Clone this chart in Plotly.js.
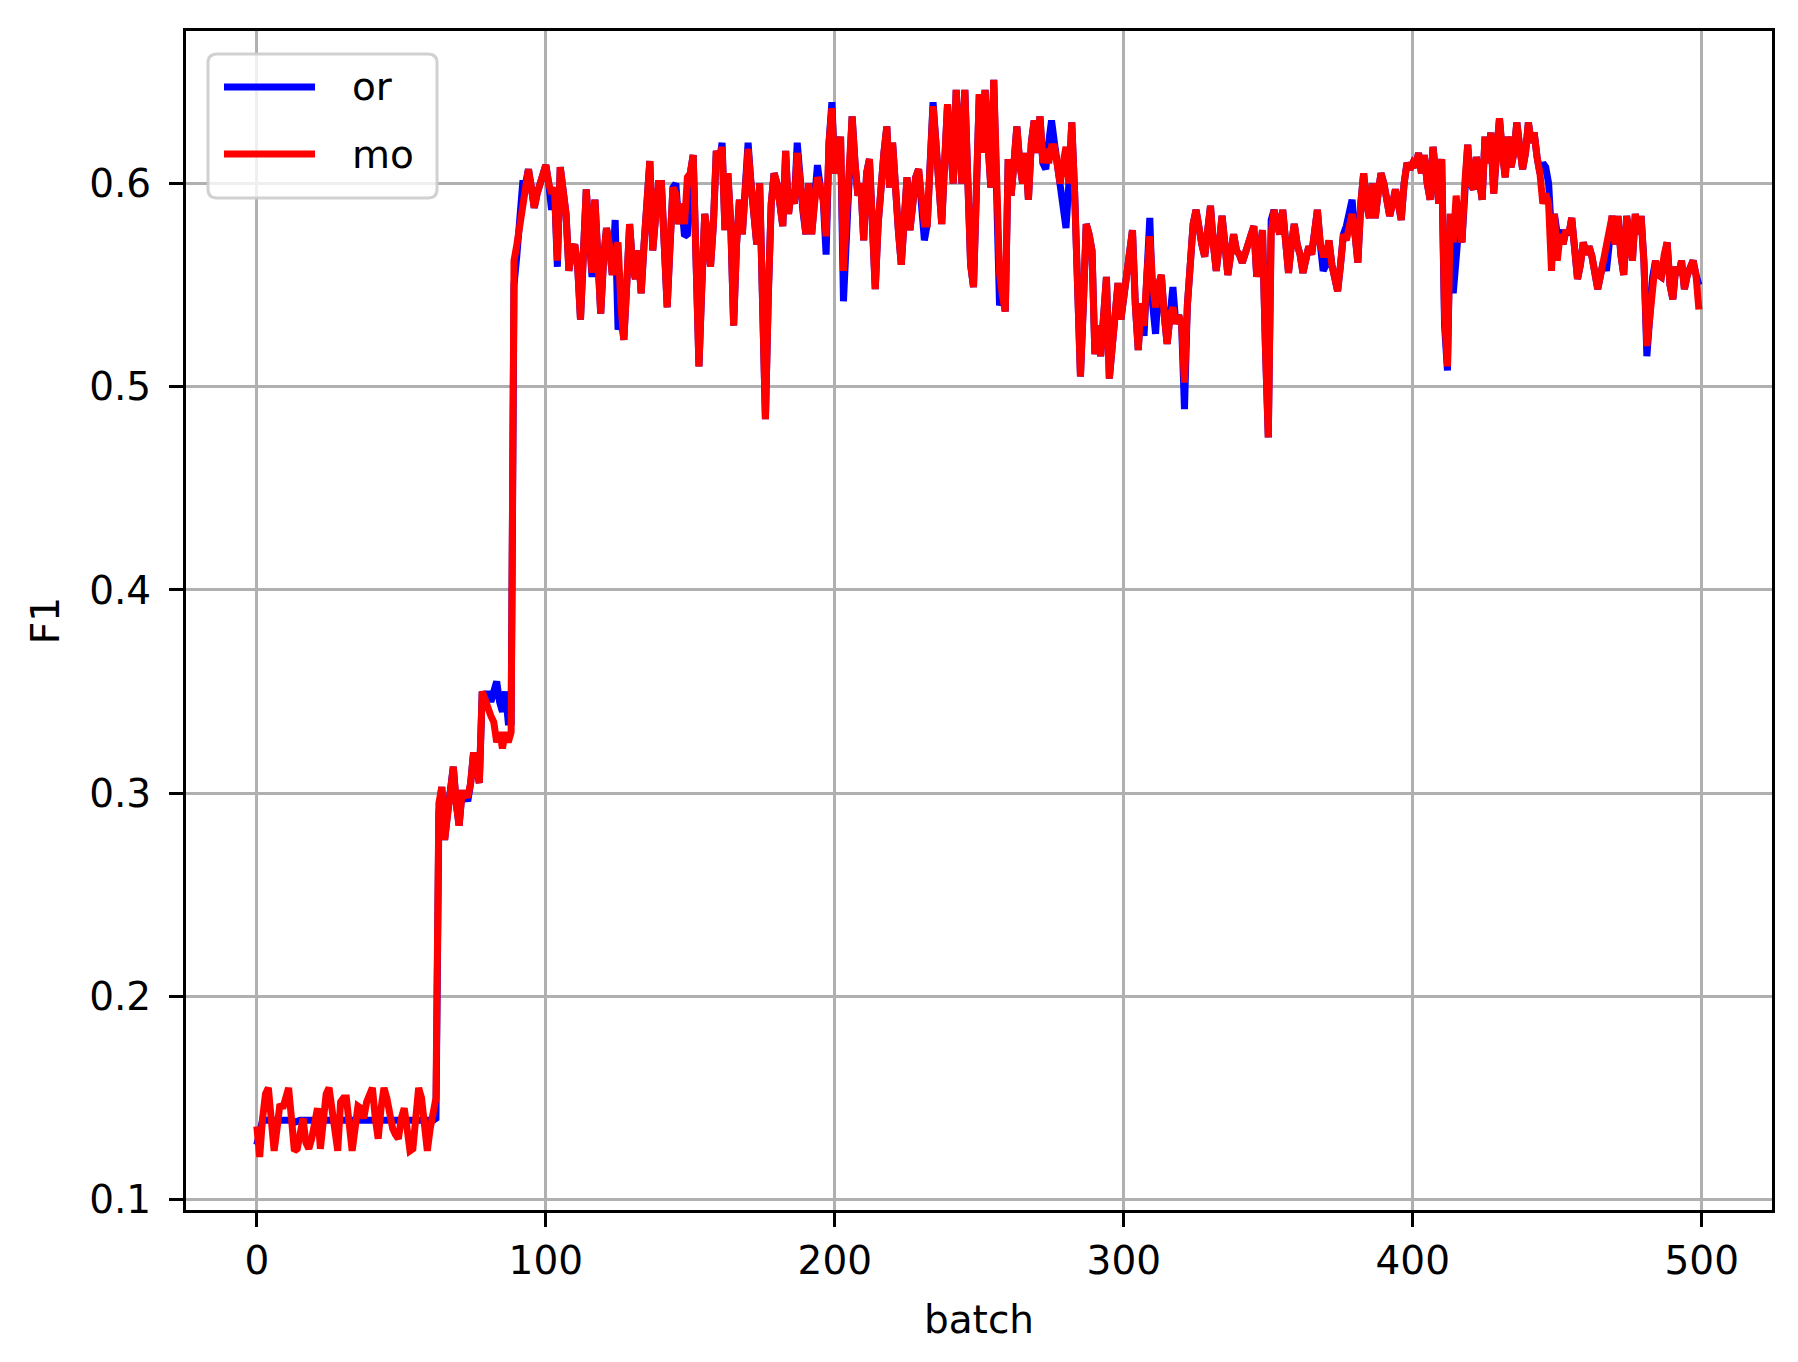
<!DOCTYPE html>
<html>
<head>
<meta charset="utf-8">
<script src="https://cdn.plot.ly/plotly-3.0.1.min.js"></script>
<style>html,body{margin:0;padding:0;background:#fff;}#chart{width:1798px;height:1362px;}</style>
</head>
<body>
<div id="chart"></div>
<script>
// F1 per batch
const seriesNames = ["or", "mo"];
const seriesColors = ["#0000ff", "#ff0000"];

const moValues = [
0.136,0.121,0.14,0.152,0.155,0.14,0.124,0.135,0.147,0.145,
0.15,0.155,0.14,0.124,0.125,0.135,0.14,0.128,0.125,0.13,
0.14,0.145,0.125,0.14,0.152,0.155,0.145,0.13,0.124,0.148,
0.15,0.15,0.135,0.124,0.135,0.146,0.145,0.14,0.148,0.152,
0.155,0.14,0.13,0.145,0.155,0.15,0.14,0.135,0.132,0.13,
0.14,0.145,0.135,0.124,0.125,0.14,0.155,0.15,0.135,0.124,
0.135,0.145,0.15,0.295,0.303,0.277,0.29,0.30,0.313,0.295,
0.284,0.30,0.30,0.298,0.305,0.32,0.31,0.305,0.35,0.345,
0.34,0.338,0.335,0.325,0.33,0.322,0.33,0.325,0.33,0.562,
0.57,0.58,0.59,0.60,0.607,0.598,0.588,0.595,0.60,0.605,
0.609,0.60,0.595,0.598,0.562,0.608,0.594,0.585,0.557,0.567,
0.57,0.56,0.533,0.567,0.597,0.575,0.556,0.592,0.565,0.536,
0.563,0.578,0.57,0.555,0.565,0.571,0.54,0.523,0.55,0.58,
0.56,0.553,0.567,0.546,0.57,0.594,0.611,0.567,0.58,0.60,
0.60,0.57,0.539,0.57,0.598,0.595,0.58,0.59,0.58,0.603,
0.605,0.614,0.56,0.51,0.55,0.585,0.575,0.559,0.58,0.616,
0.61,0.618,0.577,0.605,0.58,0.53,0.57,0.592,0.575,0.60,
0.617,0.60,0.585,0.57,0.60,0.545,0.484,0.545,0.59,0.605,
0.60,0.59,0.579,0.616,0.585,0.597,0.59,0.615,0.60,0.586,
0.575,0.60,0.575,0.59,0.603,0.598,0.592,0.574,0.62,0.637,
0.605,0.61,0.623,0.557,0.58,0.61,0.633,0.61,0.594,0.60,
0.572,0.605,0.612,0.58,0.548,0.58,0.605,0.615,0.628,0.598,
0.62,0.59,0.577,0.56,0.58,0.603,0.577,0.59,0.603,0.607,
0.59,0.58,0.58,0.61,0.638,0.62,0.603,0.58,0.61,0.639,
0.62,0.60,0.646,0.62,0.60,0.646,0.60,0.56,0.549,0.60,
0.644,0.615,0.646,0.62,0.598,0.651,0.60,0.556,0.545,0.537,
0.612,0.594,0.61,0.628,0.61,0.60,0.615,0.592,0.62,0.631,
0.615,0.633,0.61,0.617,0.61,0.618,0.618,0.61,0.60,0.61,
0.618,0.60,0.63,0.595,0.55,0.505,0.54,0.58,0.575,0.567,
0.516,0.53,0.515,0.53,0.554,0.504,0.52,0.541,0.551,0.533,
0.545,0.551,0.565,0.577,0.54,0.518,0.541,0.53,0.555,0.574,
0.55,0.539,0.55,0.555,0.535,0.521,0.535,0.539,0.531,0.535,
0.531,0.502,0.54,0.562,0.58,0.587,0.575,0.57,0.564,0.575,
0.589,0.57,0.557,0.57,0.584,0.57,0.555,0.565,0.575,0.567,
0.565,0.561,0.565,0.569,0.575,0.579,0.554,0.57,0.577,0.52,
0.475,0.575,0.587,0.58,0.575,0.587,0.57,0.556,0.57,0.58,
0.57,0.565,0.556,0.565,0.569,0.565,0.575,0.587,0.57,0.565,
0.565,0.572,0.56,0.555,0.547,0.56,0.575,0.572,0.578,0.585,
0.575,0.561,0.59,0.605,0.59,0.583,0.60,0.583,0.595,0.605,
0.60,0.59,0.584,0.59,0.597,0.59,0.582,0.60,0.61,0.607,
0.61,0.608,0.615,0.605,0.614,0.60,0.592,0.618,0.60,0.59,
0.612,0.535,0.51,0.585,0.571,0.594,0.58,0.571,0.60,0.619,
0.60,0.597,0.613,0.60,0.592,0.623,0.61,0.625,0.595,0.615,
0.632,0.615,0.603,0.623,0.608,0.615,0.63,0.618,0.607,0.615,
0.63,0.62,0.625,0.613,0.605,0.59,0.595,0.59,0.557,0.585,
0.562,0.575,0.57,0.577,0.575,0.583,0.564,0.553,0.56,0.571,
0.565,0.569,0.564,0.555,0.548,0.555,0.562,0.569,0.575,0.584,
0.57,0.584,0.565,0.555,0.584,0.57,0.562,0.585,0.575,0.584,
0.561,0.52,0.535,0.554,0.562,0.555,0.554,0.565,0.571,0.55,
0.543,0.559,0.555,0.562,0.548,0.555,0.559,0.562,0.555,0.538
];

const orValues = [
0.127,0.135,0.139,0.139,0.139,0.139,0.139,0.139,0.139,0.139,
0.139,0.139,0.139,0.138,0.139,0.139,0.139,0.139,0.139,0.139,
0.139,0.139,0.139,0.139,0.139,0.139,0.139,0.139,0.139,0.139,
0.139,0.139,0.139,0.139,0.139,0.139,0.139,0.139,0.139,0.139,
0.139,0.139,0.139,0.139,0.139,0.139,0.139,0.139,0.139,0.139,
0.139,0.139,0.139,0.139,0.139,0.139,0.139,0.139,0.139,0.139,
0.139,0.139,0.14,0.29,0.303,0.277,0.29,0.30,0.313,0.295,
0.284,0.30,0.30,0.296,0.305,0.32,0.31,0.305,0.35,0.345,
0.35,0.345,0.35,0.355,0.345,0.34,0.35,0.335,0.335,0.55,
0.565,0.585,0.60,0.60,0.607,0.598,0.588,0.595,0.60,0.605,
0.609,0.60,0.587,0.598,0.559,0.608,0.594,0.585,0.557,0.567,
0.57,0.56,0.533,0.567,0.597,0.575,0.554,0.592,0.565,0.536,
0.563,0.578,0.57,0.555,0.582,0.528,0.535,0.523,0.55,0.58,
0.56,0.553,0.567,0.546,0.57,0.594,0.611,0.567,0.58,0.60,
0.60,0.57,0.539,0.57,0.598,0.60,0.58,0.59,0.574,0.575,
0.605,0.614,0.56,0.51,0.55,0.585,0.575,0.559,0.58,0.616,
0.61,0.62,0.577,0.605,0.58,0.53,0.57,0.592,0.575,0.60,
0.62,0.60,0.585,0.57,0.60,0.545,0.484,0.545,0.59,0.605,
0.60,0.59,0.579,0.616,0.585,0.597,0.59,0.62,0.60,0.586,
0.575,0.60,0.575,0.59,0.609,0.598,0.592,0.565,0.62,0.64,
0.605,0.61,0.623,0.542,0.58,0.61,0.633,0.61,0.594,0.60,
0.572,0.605,0.612,0.58,0.548,0.58,0.605,0.615,0.628,0.598,
0.62,0.59,0.577,0.56,0.58,0.603,0.577,0.59,0.603,0.607,
0.59,0.572,0.58,0.61,0.64,0.62,0.603,0.58,0.61,0.639,
0.62,0.60,0.646,0.62,0.60,0.646,0.60,0.56,0.549,0.60,
0.644,0.615,0.646,0.62,0.598,0.651,0.60,0.54,0.545,0.537,
0.612,0.594,0.61,0.628,0.61,0.60,0.615,0.592,0.62,0.631,
0.615,0.633,0.61,0.607,0.62,0.631,0.62,0.61,0.60,0.59,
0.578,0.60,0.63,0.595,0.55,0.505,0.54,0.58,0.575,0.567,
0.516,0.53,0.515,0.53,0.554,0.504,0.52,0.541,0.551,0.533,
0.545,0.551,0.565,0.577,0.54,0.518,0.541,0.525,0.555,0.583,
0.54,0.526,0.55,0.555,0.535,0.521,0.535,0.549,0.531,0.535,
0.531,0.489,0.54,0.562,0.58,0.587,0.575,0.57,0.564,0.575,
0.589,0.57,0.557,0.57,0.584,0.57,0.555,0.565,0.575,0.567,
0.565,0.561,0.565,0.569,0.575,0.579,0.554,0.57,0.577,0.52,
0.475,0.582,0.587,0.58,0.575,0.587,0.57,0.556,0.57,0.58,
0.57,0.565,0.556,0.565,0.569,0.565,0.575,0.587,0.57,0.557,
0.56,0.572,0.56,0.555,0.547,0.56,0.575,0.579,0.585,0.592,
0.575,0.561,0.59,0.605,0.59,0.583,0.60,0.583,0.595,0.605,
0.60,0.59,0.584,0.59,0.597,0.59,0.582,0.60,0.61,0.607,
0.61,0.608,0.615,0.605,0.614,0.60,0.592,0.618,0.60,0.59,
0.612,0.53,0.508,0.585,0.546,0.56,0.58,0.571,0.60,0.619,
0.60,0.597,0.613,0.60,0.592,0.623,0.61,0.625,0.595,0.615,
0.632,0.615,0.603,0.623,0.608,0.615,0.63,0.618,0.607,0.615,
0.63,0.62,0.625,0.613,0.605,0.61,0.608,0.60,0.575,0.585,
0.575,0.577,0.57,0.577,0.575,0.583,0.564,0.553,0.56,0.571,
0.565,0.569,0.564,0.555,0.548,0.555,0.562,0.557,0.575,0.584,
0.57,0.584,0.565,0.555,0.584,0.57,0.562,0.585,0.575,0.584,
0.561,0.515,0.535,0.554,0.562,0.555,0.554,0.565,0.571,0.55,
0.543,0.559,0.555,0.562,0.548,0.555,0.559,0.562,0.555,0.55
];

const batches = orValues.map((_, i) => i);
const xTicks = [0, 100, 200, 300, 400, 500];
const yTicks = [0.1, 0.2, 0.3, 0.4, 0.5, 0.6];
const yTickLabels = ["0.1", "0.2", "0.3", "0.4", "0.5", "0.6"];

const FONT = "DejaVu Sans, Liberation Sans, sans-serif";
const FS = 39;
const LW = 7;

const traces = [
  {x: batches, y: orValues, name: seriesNames[0], type: "scatter", mode: "lines",
   line: {color: seriesColors[0], width: LW}},
  {x: batches, y: moValues, name: seriesNames[1], type: "scatter", mode: "lines",
   line: {color: seriesColors[1], width: LW}}
];

// plot area in pixels (for the hand-drawn matplotlib-like legend)
const L = 186, R = 1772, T = 31, B = 1210;
const W = 1798, H = 1362;
const px = v => (v - L) / (R - L);
const py = v => (B - v) / (B - T);

function roundRect(x0, y0, x1, y1, r) {
  const X = px, Y = py;
  return `M ${X(x0 + r)} ${Y(y0)} L ${X(x1 - r)} ${Y(y0)} Q ${X(x1)} ${Y(y0)} ${X(x1)} ${Y(y0 + r)} ` +
         `L ${X(x1)} ${Y(y1 - r)} Q ${X(x1)} ${Y(y1)} ${X(x1 - r)} ${Y(y1)} ` +
         `L ${X(x0 + r)} ${Y(y1)} Q ${X(x0)} ${Y(y1)} ${X(x0)} ${Y(y1 - r)} ` +
         `L ${X(x0)} ${Y(y0 + r)} Q ${X(x0)} ${Y(y0)} ${X(x0 + r)} ${Y(y0)} Z`;
}

const legendRows = [87, 154];
const shapes = [
  {type: "path", xref: "paper", yref: "paper", path: roundRect(208, 54, 437, 198, 9),
   line: {color: "rgba(204,204,204,0.9)", width: 3}, fillcolor: "rgba(255,255,255,0.8)", layer: "above"}
];
const annotations = [];
seriesNames.forEach((n, i) => {
  shapes.push({type: "line", xref: "paper", yref: "paper",
    x0: px(224), x1: px(315), y0: py(legendRows[i]), y1: py(legendRows[i]),
    line: {color: seriesColors[i], width: LW}, layer: "above"});
  annotations.push({xref: "paper", yref: "paper", x: px(350), y: py(legendRows[i]),
    xanchor: "left", yanchor: "middle", text: n, showarrow: false,
    font: {family: FONT, size: FS, color: "#000"}});
});

const axisCommon = {
  showline: true, linecolor: "#000", linewidth: 3, mirror: true,
  ticks: "outside", ticklen: 14, tickwidth: 3, tickcolor: "#000",
  showgrid: true, gridcolor: "#b0b0b0", gridwidth: 3, zeroline: false,
  tickfont: {family: FONT, size: FS, color: "#000"}
};

const layout = {
  width: W, height: H,
  margin: {l: L, r: W - R, t: T, b: H - B, pad: 0},
  paper_bgcolor: "#fff", plot_bgcolor: "#fff",
  showlegend: false,
  font: {family: FONT, size: FS, color: "#000"},
  xaxis: Object.assign({}, axisCommon, {
    range: [-24.5, 524.3], tickvals: xTicks, ticktext: xTicks.map(String),
    ticklabelstandoff: 0,
    title: {text: "batch", font: {family: FONT, size: FS, color: "#000"}, standoff: 24}
  }),
  yaxis: Object.assign({}, axisCommon, {
    range: [0.0949, 0.675], tickvals: yTicks, ticktext: yTickLabels,
    ticklabelstandoff: 10,
    title: {text: "F1", font: {family: FONT, size: FS, color: "#000"}, standoff: 18}
  }),
  shapes: shapes,
  annotations: annotations
};

Plotly.newPlot("chart", traces, layout, {displayModeBar: false, staticPlot: true});
</script>
</body>
</html>
